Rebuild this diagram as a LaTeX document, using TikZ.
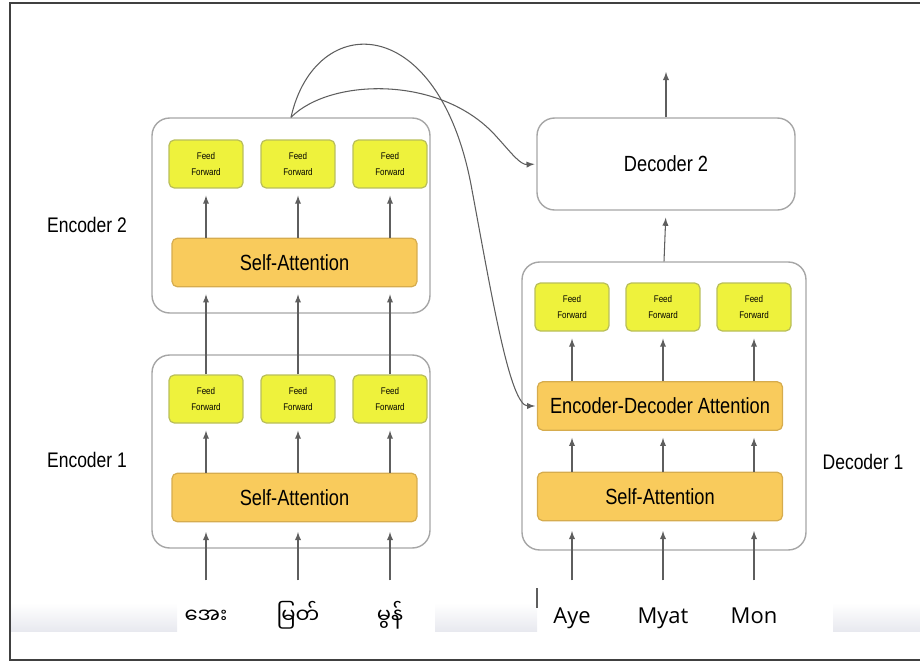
\documentclass[tikz,border=0pt]{standalone}
\usepackage{fontspec}
\setmainfont{Liberation Sans}
\newfontfamily\narrowsans[FakeStretch=0.83]{Liberation Sans}
\newfontfamily\wordsans{Open Sans}
\newfontfamily\myanmarfont[Script=Myanmar]{Noto Sans Myanmar UI}
\usepackage{tikz}

\definecolor{ffyellow}{HTML}{EEF23C}
\definecolor{ffborder}{HTML}{B9BE5A}
\definecolor{attnfill}{HTML}{F9CB5C}
\definecolor{attnborder}{HTML}{D6AC4E}
\definecolor{boxgray}{HTML}{A6A6A6}
\definecolor{arrgray}{HTML}{5E5E5E}
\definecolor{bandgray}{HTML}{E8E9EF}

\tikzset{
  stack/.style={draw=boxgray, line width=0.8pt, rounded corners=10pt},
  ffbox/.style={draw=ffborder, fill=ffyellow, line width=0.7pt, rounded corners=3pt,
    minimum width=1.48cm, minimum height=0.96cm, inner sep=0pt, align=center,
    font=\narrowsans\fontsize{5.5}{9.5}\selectfont},
  attn/.style={draw=attnborder, fill=attnfill, line width=0.7pt, rounded corners=3pt,
    minimum width=4.9cm, minimum height=0.97cm, inner sep=0pt,
    font=\narrowsans\fontsize{12.5}{15}\selectfont},
  tag/.style={font=\narrowsans\fontsize{12}{14}\selectfont},
  word/.style={anchor=base, inner sep=2pt, text height=10pt, text depth=3pt,
    font=\wordsans\fontsize{12.5}{15}\selectfont},
  flow/.style={->, draw=arrgray, line width=0.6pt, shorten >=4pt},
}

\begin{document}
\begin{tikzpicture}[x=0.02cm, y=-0.02cm, >=latex]
    \useasboundingbox (0,0) rectangle (920,663);
    % 截图底部的浅色条与边框
    \foreach \a/\b in {10/177, 435/537, 833/920}
      \shade[top color=white, bottom color=bandgray] (\a,603) rectangle (\b,631);
    \draw[arrgray, line width=0.6pt] (537,588) -- (537,608);
    \draw[black!75, line width=1pt] (920,3) -- (10,3) -- (10,660) -- (920,660);
    % 编码器与解码器外框
    \node[stack, minimum width=5.56cm, minimum height=3.9cm] (enc2) at (291,215.5) {};
    \node[stack, minimum width=5.56cm, minimum height=3.86cm] (enc1) at (291,451.5) {};
    \node[stack, minimum width=5.68cm, minimum height=5.76cm] (dec1) at (664,406) {};
    \node[stack, minimum width=5.16cm, minimum height=1.84cm,
      font=\narrowsans\fontsize{12.5}{15}\selectfont] (dec2) at (666,164) {Decoder 2};
    % 注意力层
    \node[attn] (esa2) at (294.5,262.5) {Self-Attention};
    \node[attn] (esa1) at (294.5,497.5) {Self-Attention};
    \node[attn] (eda) at (660,406) {Encoder-Decoder Attention};
    \node[attn] (dsa) at (660,496.5) {Self-Attention};
    % 前馈层
    \foreach \i/\x in {1/206, 2/298, 3/390} {
      \node[ffbox] (eff2\i) at (\x,164) {Feed\\Forward};
      \node[ffbox] (eff1\i) at (\x,399) {Feed\\Forward};
    }
    \foreach \i/\x in {1/572, 2/663, 3/754}
      \node[ffbox] (dff\i) at (\x,307) {Feed\\Forward};
    % 左右两侧的标签
    \node[tag] (lenc2) at (87,225) {Encoder 2};
    \node[tag] (lenc1) at (87,460) {Encoder 1};
    \node[tag] (ldec1) at (863,462) {Decoder 1};
    % 输入词
    \foreach \i/\x/\w in {1/206/အေး, 2/298/မြတ်, 3/390/မွန်}
      \node[word, font=\myanmarfont\fontsize{12}{14}\selectfont] (src\i) at (\x,623) {\w};
    \foreach \i/\x/\w in {1/572/Aye, 2/663/Myat, 3/754/Mon}
      \node[word] (tgt\i) at (\x,623) {\w};
    % 各列的箭头
    \foreach \i in {1,2,3} {
      \draw[flow, shorten <=12pt, shorten >=5.5pt] (src\i.north) -- (esa1.south -| src\i);
      \draw[flow] (esa1.north -| eff1\i) -- (eff1\i.south);
      \draw[flow] (eff1\i.north) -- (esa2.south -| eff1\i);
      \draw[flow] (esa2.north -| eff2\i) -- (eff2\i.south);
      \draw[flow, shorten <=12pt, shorten >=5.5pt] (tgt\i.north) -- (dsa.south -| tgt\i);
      \draw[flow] (dsa.north -| dff\i) -- (eda.south -| dff\i);
      \draw[flow] (eda.north -| dff\i) -- (dff\i.south);
    }
    % 解码器之间与输出
    \coordinate (out) at (666,72);
    \draw[flow] (dec1.north) -- (dec2.south);
    \draw[flow, shorten >=0pt] (dec2.north) -- (out);
    % 编码器输出到解码器
    \draw[flow, shorten >=1pt] (enc2.north) .. controls (315,10) and (440,10) .. (472,190)
      .. controls (492,297) and (510,406) .. (eda.west);
    \draw[flow, shorten >=1pt] (enc2.north) .. controls (330,78) and (440,75) .. (495,135)
      .. controls (511.5,153) and (520,165) .. (dec2.west);
\end{tikzpicture}
\end{document}
